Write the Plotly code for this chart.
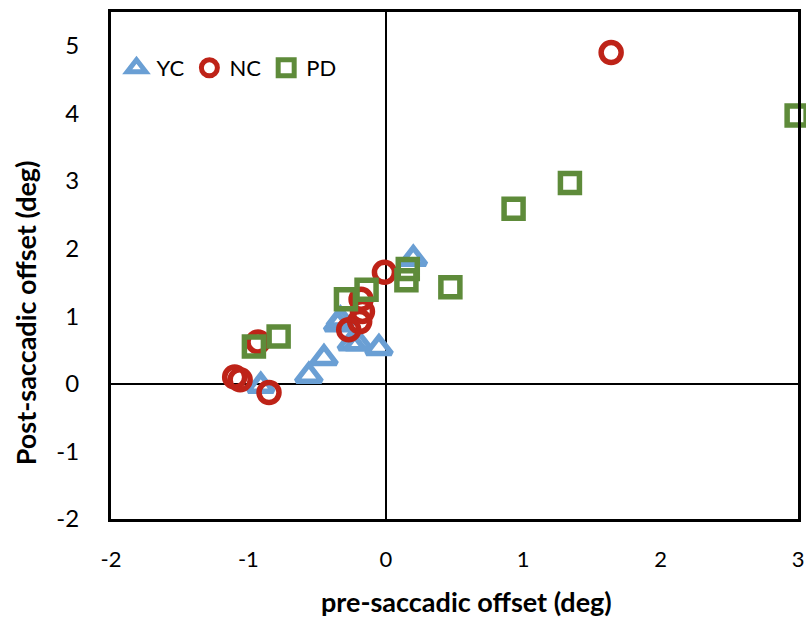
import plotly.graph_objects as go

# Data
yc_x = [0.20, -0.35, -0.33, -0.25, -0.20, -0.05, -0.45, -0.56, -0.91]
yc_y = [1.85, 0.88, 0.95, 0.60, 0.60, 0.53, 0.38, 0.12, -0.03]

nc_x = [1.64, -0.01, -0.18, -0.17, -0.19, -0.27, -0.93, -1.10, -1.06, -0.85]
nc_y = [4.90, 1.65, 1.25, 1.07, 0.92, 0.80, 0.62, 0.10, 0.06, -0.13]

pd_x = [2.99, 1.34, 0.93, 0.47, 0.16, 0.15, -0.14, -0.29, -0.78, -0.96]
pd_y = [3.97, 2.97, 2.59, 1.43, 1.70, 1.53, 1.39, 1.25, 0.70, 0.55]

x_ticks = [-2, -1, 0, 1, 2, 3]
y_ticks = [-2, -1, 0, 1, 2, 3, 4, 5]

x_title = "pre-saccadic offset (deg)"
y_title = "Post-saccadic offset (deg)"

BLUE = "#6A9FD4"
RED = "#BE2318"
GREEN = "#5E8B3A"

fig = go.Figure()
fig.add_trace(go.Scatter(x=yc_x, y=yc_y, mode="markers", name="YC", cliponaxis=False,
                         marker=dict(symbol="triangle-up-open", size=22, color=BLUE,
                                     line=dict(width=5.5, color=BLUE))))
fig.add_trace(go.Scatter(x=nc_x, y=nc_y, mode="markers", name="NC", cliponaxis=False,
                         marker=dict(symbol="circle-open", size=20, color=RED,
                                     line=dict(width=5.5, color=RED))))
fig.add_trace(go.Scatter(x=pd_x, y=pd_y, mode="markers", name="PD", cliponaxis=False,
                         marker=dict(symbol="square-open", size=19, color=GREEN,
                                     line=dict(width=5.5, color=GREEN))))

fig.update_layout(
    width=806, height=619,
    margin=dict(l=111, r=8, t=12, b=100),
    paper_bgcolor="white", plot_bgcolor="white",
    showlegend=True,
    legend=dict(orientation="h", x=0.008, y=0.931, xanchor="left", yanchor="top",
                bgcolor="rgba(0,0,0,0)", itemwidth=30,
                font=dict(family="Lato", size=22, color="black")),
    xaxis=dict(range=[-2, 3], tickvals=x_ticks, ticktext=[str(v) for v in x_ticks],
               automargin=False, ticklabeloverflow="allow",
               showgrid=False, zeroline=True, zerolinecolor="black", zerolinewidth=1.5,
               showline=True, linecolor="black", linewidth=3, mirror=True,
               ticks="", ticklabelstandoff=19,
               tickfont=dict(family="Lato", size=22, color="black")),
    yaxis=dict(range=[-2, 5.5], tickvals=y_ticks, ticktext=[str(v) for v in y_ticks],
               automargin=False, ticklabeloverflow="allow",
               showgrid=False, zeroline=True, zerolinecolor="black", zerolinewidth=1.5,
               showline=True, linecolor="black", linewidth=3, mirror=True,
               ticks="", ticklabelstandoff=24,
               tickfont=dict(family="Lato", size=24, color="black")),
    annotations=[
        dict(text="<b>" + x_title + "</b>", xref="paper", yref="paper",
             x=0.518, y=-0.162, xanchor="center", yanchor="middle", showarrow=False,
             font=dict(family="Lato", size=27, color="black")),
        dict(text="<b>" + y_title + "</b>", xref="paper", yref="paper",
             x=-0.125, y=0.406, xanchor="center", yanchor="middle", showarrow=False,
             textangle=-90, font=dict(family="Lato", size=27, color="black")),
    ],
)

fig.write_html("out.html", config={"displayModeBar": False},
               post_script="document.body.style.margin='0';")
